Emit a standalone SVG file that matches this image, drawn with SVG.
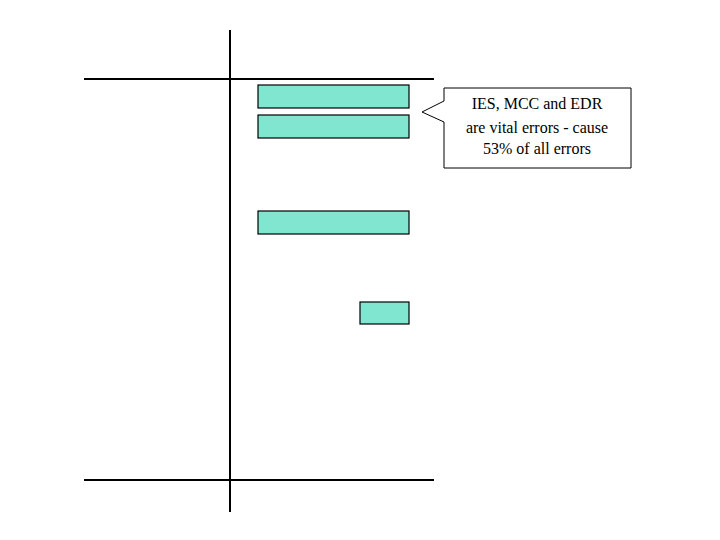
<svg xmlns="http://www.w3.org/2000/svg" width="720" height="540" viewBox="0 0 720 540">
<style>
.bar{fill:#80e6d0;stroke:#000;stroke-width:1.2}
.ax{stroke:#000;stroke-width:2;fill:none}
text{font-family:"Liberation Serif",serif;font-size:16px;text-anchor:middle}
</style>
<rect width="720" height="540" fill="#fff"/>
<g id="axes">
<line class="ax" x1="230" y1="30" x2="230" y2="512"/>
<line class="ax" x1="84" y1="79" x2="434" y2="79"/>
<line class="ax" x1="84" y1="480" x2="434" y2="480"/>
</g>
<g id="bar1"><rect class="bar" x="258" y="85" width="151" height="23"/></g>
<g id="bar2"><rect class="bar" x="258" y="115" width="151" height="23"/></g>
<g id="bar3"><rect class="bar" x="258" y="211" width="151" height="23"/></g>
<g id="bar4"><rect class="bar" x="360" y="302" width="49" height="22"/></g>
<g id="callout">
<path d="M444,88 H631 V168 H444 V122 L422,112 L444,101 Z" fill="#fff" stroke="#000" stroke-width="1"/>
<text x="537" y="109">IES, MCC and EDR</text>
<text x="537" y="133">are vital errors - cause</text>
<text x="537" y="154">53% of all errors</text>
</g>
</svg>
